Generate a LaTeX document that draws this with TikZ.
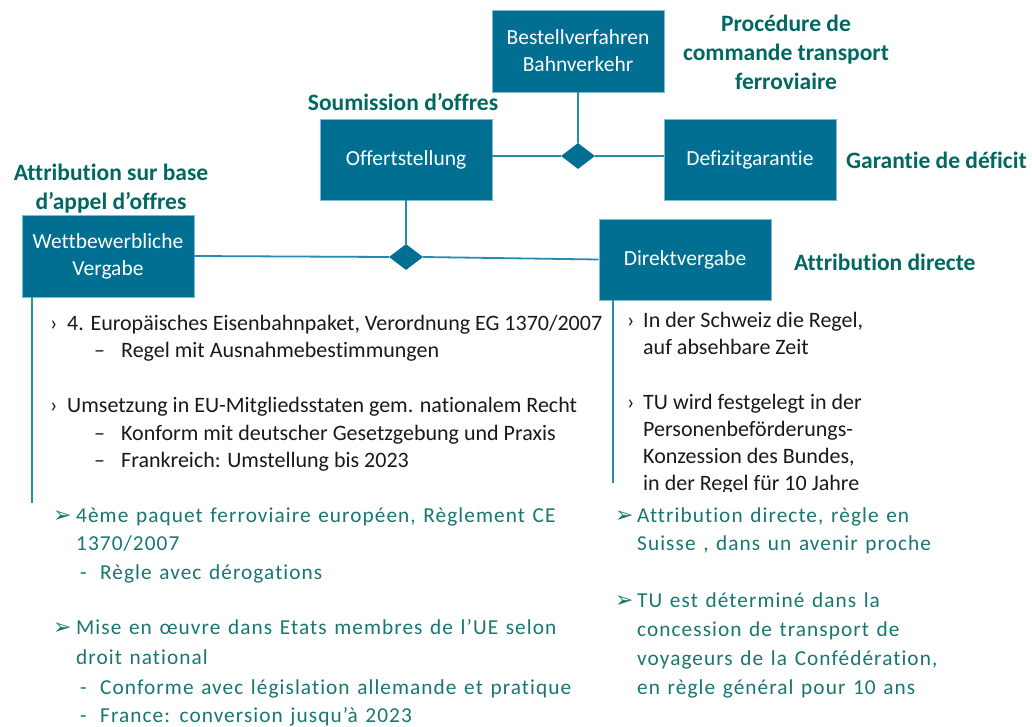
\documentclass[tikz,border=0pt]{standalone}
\usepackage{fontspec}
\setmainfont{Carlito}[Ligatures=NoCommon]
\newfontfamily\frfont[LetterSpace=5,WordSpace=1.3,Ligatures=NoCommon]{Carlito}
\newfontfamily\dingfont{DejaVu Sans}
\usetikzlibrary{shapes.geometric}
\definecolor{boxblue}{RGB}{0,111,146}
\definecolor{linkblue}{RGB}{38,139,178}
\definecolor{labgreen}{RGB}{0,104,96}
\definecolor{frgreen}{RGB}{24,118,112}
\definecolor{detext}{RGB}{25,25,25}
\tikzset{
  procbox/.style={rectangle, fill=boxblue, draw=linkblue!60, line width=0.6pt,
    minimum width=172pt, minimum height=81pt, text=white, align=center,
    font=\fontsize{21.5}{27}\selectfont},
  joint/.style={diamond, fill=boxblue, minimum width=34pt, minimum height=26pt, inner sep=0pt},
  link/.style={draw=linkblue, line width=1.8pt},
  frlabel/.style={text=labgreen, align=center, font=\fontsize{23.5}{29}\bfseries\selectfont, inner sep=0pt},
  deline/.style={anchor=base west, inner sep=0pt, text=detext, font=\fontsize{22}{26}\selectfont},
  frline/.style={anchor=base west, inner sep=0pt, text=frgreen, font=\fontsize{21.3}{26}\frfont},
  frmark/.style={anchor=base west, inner sep=0pt, text=frgreen, font=\fontsize{22}{26}\dingfont}
}
\begin{document}
\begin{tikzpicture}[x=1pt, y=-1pt]
\useasboundingbox (0,0) rectangle (1032,726);

% process boxes
\node[procbox, minimum height=82pt] (best) at (578,51) {Bestellverfahren\\Bahnverkehr};
\node[procbox] (offert) at (406,159.5) {Offertstellung};
\node[procbox] (defizit) at (750,159.5) {Defizitgarantie};
\node[procbox, minimum height=82pt] (wett) at (108,256) {Wettbewerbliche\\Vergabe};
\node[procbox] (direkt) at (685,259.5) {Direktvergabe};

% junctions
\node[joint] (j1) at (578,156) {};
\node[joint] (j2) at (406,257) {};

% connectors
\draw[link] (best.south) -- (j1.north);
\draw[link] (j1.west) -- (j1.west -| offert.east);
\draw[link] (j1.east) -- (j1.east -| defizit.west);
\draw[link] (offert.south) -- (j2.north);
\draw[link] (wett.east) -- (j2.west);
\draw[link] (j2.east) -- (direkt.west);
\coordinate (wettend) at (32,503);
\coordinate (direktend) at (613,483);
\draw[link] (wettend |- wett.south) -- (wettend);
\draw[link] (direktend |- direkt.south) -- (direktend);

% French labels
\node[frlabel] (lbest) at (786,52) {Procédure de\\commande transport\\ferroviaire};
\node[frlabel] (loffert) at (403,102) {Soumission d’offres};
\node[frlabel, anchor=west] (ldefizit) at (846,160) {Garantie de déficit};
\node[frlabel] (lwett) at (111,189) {Attribution sur base\\d’appel d’offres};
\node[frlabel, anchor=west] (ldirekt) at (794,262) {Attribution directe};

% German notes, left column
\node[deline] (ga1b) at (50,330) {›};
\node[deline] (ga1) at (67,330) {4. Europäisches Eisenbahnpaket, Verordnung EG 1370/2007};
\node[deline] (ga2b) at (94,357) {–};
\node[deline] (ga2) at (121,357) {Regel mit Ausnahmebestimmungen};
\node[deline] (ga3b) at (50,412) {›};
\node[deline] (ga3) at (67,412) {Umsetzung in EU-Mitgliedsstaten gem. nationalem Recht};
\node[deline] (ga4b) at (94,440) {–};
\node[deline] (ga4) at (121,440) {Konform mit deutscher Gesetzgebung und Praxis};
\node[deline] (ga5b) at (94,467) {–};
\node[deline] (ga5) at (121,467) {Frankreich: Umstellung bis 2023};

% German notes, right column
\node[deline] (gb1b) at (627,327) {›};
\node[deline] (gb1) at (643,327) {In der Schweiz die Regel,};
\node[deline] (gb2) at (643,354) {auf absehbare Zeit};
\node[deline] (gb3b) at (627,409) {›};
\node[deline] (gb3) at (643,409) {TU wird festgelegt in der};
\node[deline] (gb4) at (643,436) {Personenbeförderungs-};
\node[deline] (gb5) at (643,463) {Konzession des Bundes,};
\begin{scope}
  \clip (600,470) rectangle (1032,491);
  \node[deline] (gb6) at (643,490) {in der Regel für 10 Jahre};
\end{scope}

% French notes, left column
\node[frmark] (fa1b) at (53,522) {➢};
\node[frline] (fa1) at (76,522) {4ème paquet ferroviaire européen, Règlement CE};
\node[frline] (fa2) at (76,550) {1370/2007};
\node[frline] (fa3b) at (80,579) {-};
\node[frline] (fa3) at (100,579) {Règle avec dérogations};
\node[frmark] (fa4b) at (53,634) {➢};
\node[frline] (fa4) at (76,634) {Mise en œuvre dans Etats membres de l’UE selon};
\node[frline] (fa5) at (76,664) {droit national};
\node[frline] (fa6b) at (80,694) {-};
\node[frline] (fa6) at (100,694) {Conforme avec législation allemande et pratique};
\node[frline] (fa7b) at (80,722) {-};
\node[frline] (fa7) at (100,722) {France: conversion jusqu’à 2023};

% French notes, right column
\node[frmark] (fb1b) at (615,522) {➢};
\node[frline] (fb1) at (637,522) {Attribution directe, règle en};
\node[frline] (fb2) at (637,550) {Suisse , dans un avenir proche};
\node[frmark] (fb3b) at (615,607) {➢};
\node[frline] (fb3) at (637,607) {TU est déterminé dans la};
\node[frline] (fb4) at (637,636) {concession de transport de};
\node[frline] (fb5) at (637,665) {voyageurs de la Confédération,};
\node[frline] (fb6) at (637,694) {en règle général pour 10 ans};
\end{tikzpicture}
\end{document}
